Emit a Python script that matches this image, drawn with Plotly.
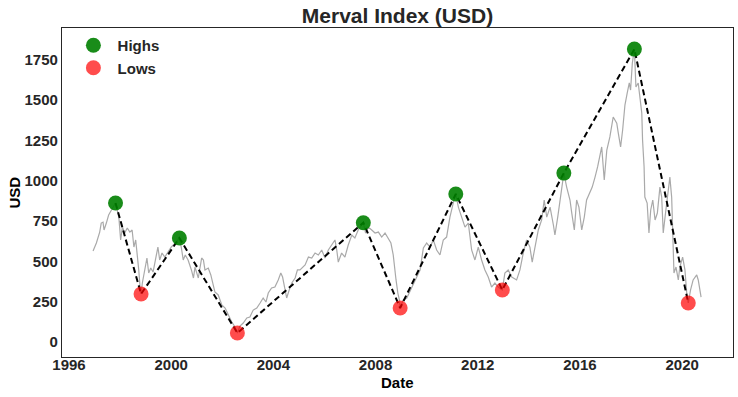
import plotly.graph_objects as go
import pandas as pd

# Daily Merval index in USD (traced), decimal years and values
line_years = [1996.94, 1997.07, 1997.20, 1997.26, 1997.33, 1997.37, 1997.46, 1997.55, 1997.66, 1997.76,
              1997.82, 1997.95, 1998.02, 1998.09, 1998.18, 1998.28, 1998.38, 1998.47, 1998.54, 1998.61,
              1998.67, 1998.73, 1998.79, 1998.82, 1998.87, 1998.96, 1999.05, 1999.12, 1999.20, 1999.29,
              1999.42, 1999.48, 1999.55, 1999.64, 1999.75, 1999.87, 2000.00, 2000.16, 2000.27, 2000.32,
              2000.40, 2000.47, 2000.55, 2000.66, 2000.79, 2000.87, 2000.93, 2001.06, 2001.19, 2001.26,
              2001.32, 2001.45, 2001.55, 2001.62, 2001.71, 2001.84, 2001.98, 2002.11, 2002.24, 2002.37,
              2002.50, 2002.59, 2002.69, 2002.82, 2002.96, 2003.08, 2003.21, 2003.35, 2003.48, 2003.60,
              2003.71, 2003.80, 2003.93, 2004.06, 2004.19, 2004.29, 2004.36, 2004.43, 2004.52, 2004.62,
              2004.72, 2004.85, 2004.94, 2005.04, 2005.24, 2005.37, 2005.50, 2005.63, 2005.76, 2005.89,
              2006.02, 2006.15, 2006.28, 2006.41, 2006.48, 2006.54, 2006.67, 2006.80, 2006.93, 2007.07,
              2007.19, 2007.32, 2007.46, 2007.52, 2007.61, 2007.71, 2007.85, 2007.98, 2008.11, 2008.24,
              2008.37, 2008.50, 2008.60, 2008.69, 2008.73, 2008.80, 2008.87, 2008.93, 2008.96, 2009.08,
              2009.22, 2009.41, 2009.61, 2009.74, 2009.87, 2010.00, 2010.13, 2010.26, 2010.39, 2010.52,
              2010.65, 2010.78, 2010.91, 2011.04, 2011.14, 2011.24, 2011.37, 2011.50, 2011.63, 2011.76,
              2011.89, 2012.02, 2012.15, 2012.28, 2012.41, 2012.54, 2012.67, 2012.80, 2012.96, 2013.06,
              2013.19, 2013.33, 2013.52, 2013.65, 2013.78, 2013.91, 2014.04, 2014.13, 2014.27, 2014.37,
              2014.50, 2014.60, 2014.70, 2014.83, 2014.96, 2015.02, 2015.13, 2015.22, 2015.31, 2015.37,
              2015.48, 2015.61, 2015.68, 2015.78, 2015.87, 2015.96, 2016.07, 2016.17, 2016.26, 2016.39,
              2016.48, 2016.59, 2016.69, 2016.85, 2016.95, 2017.05, 2017.17, 2017.30, 2017.44, 2017.50,
              2017.59, 2017.67, 2017.76, 2017.85, 2017.93, 2017.98, 2018.05, 2018.13, 2018.19, 2018.28,
              2018.35, 2018.42, 2018.45, 2018.51, 2018.54, 2018.63, 2018.70, 2018.77, 2018.85, 2018.94,
              2019.03, 2019.13, 2019.20, 2019.26, 2019.35, 2019.46, 2019.52, 2019.59, 2019.63, 2019.68,
              2019.76, 2019.85, 2019.91, 2020.02, 2020.11, 2020.18, 2020.24, 2020.33, 2020.43, 2020.57,
              2020.63, 2020.74]
line_values = [564, 614, 682, 738, 744, 695, 738, 788, 819, 850,
               862, 775, 633, 713, 676, 707, 682, 695, 589, 633,
               552, 447, 323, 298, 366, 447, 521, 428, 459, 434,
               527, 589, 509, 552, 527, 558, 589, 614, 633, 645,
               583, 509, 540, 509, 447, 397, 465, 397, 521, 509,
               447, 459, 416, 372, 310, 292, 230, 211, 167, 124,
               93, 56, 99, 118, 149, 155, 198, 211, 242, 273,
               248, 304, 335, 341, 385, 428, 403, 341, 273, 323,
               366, 397, 447, 447, 478, 527, 521, 552, 540, 571,
               521, 571, 602, 633, 571, 496, 552, 527, 602, 664,
               645, 695, 726, 740, 676, 713, 695, 676, 682, 651,
               676, 645, 614, 540, 465, 385, 304, 261, 211, 261,
               273, 341, 403, 447, 583, 614, 589, 633, 571, 540,
               633, 651, 775, 862, 918, 837, 775, 713, 738, 571,
               509, 589, 509, 447, 403, 341, 366, 341, 323, 428,
               447, 403, 385, 447, 552, 633, 589, 496, 614, 695,
               757, 881, 775, 837, 726, 664, 775, 881, 961, 1048,
               961, 881, 800, 695, 881, 837, 695, 775, 881, 924,
               961, 1023, 1086, 1210, 1005, 1191, 1272, 1396, 1358, 1296,
               1210, 1315, 1470, 1545, 1607, 1563, 1731, 1817, 1582, 1607,
               1520, 1420, 1253, 1086, 899, 862, 676, 819, 881, 757,
               800, 961, 899, 676, 800, 943, 1023, 899, 589, 428,
               465, 385, 465, 527, 447, 304, 242, 323, 385, 416,
               385, 279]

high_years = [1997.82, 2000.32, 2007.52, 2011.14, 2015.37, 2018.13]
high_values = [862, 645, 740, 918, 1048, 1817]
low_years = [1998.82, 2002.59, 2008.96, 2012.96, 2020.24]
low_values = [298, 56, 211, 323, 242]

x_tick_years = [1996, 2000, 2004, 2008, 2012, 2016, 2020]
y_tick_values = [0, 250, 500, 750, 1000, 1250, 1500, 1750]


def to_date(y):
    yr = int(y)
    start = pd.Timestamp(year=yr, month=1, day=1)
    end = pd.Timestamp(year=yr + 1, month=1, day=1)
    return start + (end - start) * (y - yr)


line_dates = [to_date(v) for v in line_years]
high_dates = [to_date(v) for v in high_years]
low_dates = [to_date(v) for v in low_years]

# zigzag connecting highs and lows in time order
pivots = sorted(list(zip(high_years, high_values)) + list(zip(low_years, low_values)))
pivot_dates = [to_date(p[0]) for p in pivots]
pivot_values = [p[1] for p in pivots]

FONT = "Liberation Sans, Arial, sans-serif"
TXT = "#262626"

fig = go.Figure()
fig.add_trace(go.Scatter(x=line_dates, y=line_values, mode="lines",
                         line=dict(color="rgba(160,160,160,0.9)", width=1.2),
                         showlegend=False, hoverinfo="skip"))
fig.add_trace(go.Scatter(x=pivot_dates, y=pivot_values, mode="lines",
                         line=dict(color="black", width=2, dash="6px,3.5px"),
                         showlegend=False))
fig.add_trace(go.Scatter(x=high_dates, y=high_values, mode="markers", name="\u00a0<b>Highs</b>",
                         marker=dict(color="rgba(0,128,0,0.9)", size=15, line=dict(width=0))))
fig.add_trace(go.Scatter(x=low_dates, y=low_values, mode="markers", name="\u00a0<b>Lows</b>",
                         marker=dict(color="rgba(255,0,0,0.7)", size=15, line=dict(width=0))))

fig.update_layout(
    width=738, height=397,
    margin=dict(l=62, r=5, t=28, b=40, autoexpand=False),
    paper_bgcolor="white", plot_bgcolor="white",
    font=dict(family=FONT, color=TXT, size=15),
    title=dict(text="<b>Merval Index (USD)</b>", x=0.5, xref="paper", xanchor="center",
               y=1 - 16 / 397, yref="container", yanchor="middle",
               font=dict(family=FONT, size=21, color=TXT)),
    legend=dict(x=0.017, y=0.997, xanchor="left", yanchor="top",
                bgcolor="rgba(0,0,0,0)", font=dict(family=FONT, size=15, color=TXT),
                itemwidth=30, tracegroupgap=0),
    showlegend=True,
    annotations=[
        dict(text="<b>Date</b>", x=0.5, xref="paper", y=-(382 - 357) / 329, yref="paper",
             xanchor="center", yanchor="middle", showarrow=False,
             font=dict(family=FONT, size=15, color="black")),
        dict(text="<b>USD</b>", x=(14 - 62) / 671, xref="paper", y=0.5, yref="paper",
             xanchor="center", yanchor="middle", showarrow=False, textangle=-90,
             font=dict(family=FONT, size=15, color="black")),
    ],
)
fig.update_xaxes(
    type="date", automargin=False,
    range=[to_date(1995.726), to_date(2021.99)],
    tickvals=[to_date(v) for v in x_tick_years],
    ticktext=[f"<b>{v}</b>" for v in x_tick_years],
    showgrid=False, zeroline=False,
    showline=True, linecolor=TXT, linewidth=1.2, mirror=True,
    ticks="", ticklen=0, ticklabelstandoff=-6,
    tickfont=dict(family=FONT, size=15, color=TXT),
)
fig.update_yaxes(
    automargin=False,
    range=[-93, 1948],
    tickvals=y_tick_values,
    ticktext=[f"<b>{v}</b>" for v in y_tick_values],
    showgrid=False, zeroline=False,
    showline=True, linecolor=TXT, linewidth=1.2, mirror=True,
    ticks="", ticklen=0,
    tickfont=dict(family=FONT, size=15, color=TXT),
)

fig.write_html("out.html", config={"displayModeBar": False},
               post_script="document.body.style.margin='0px';")
